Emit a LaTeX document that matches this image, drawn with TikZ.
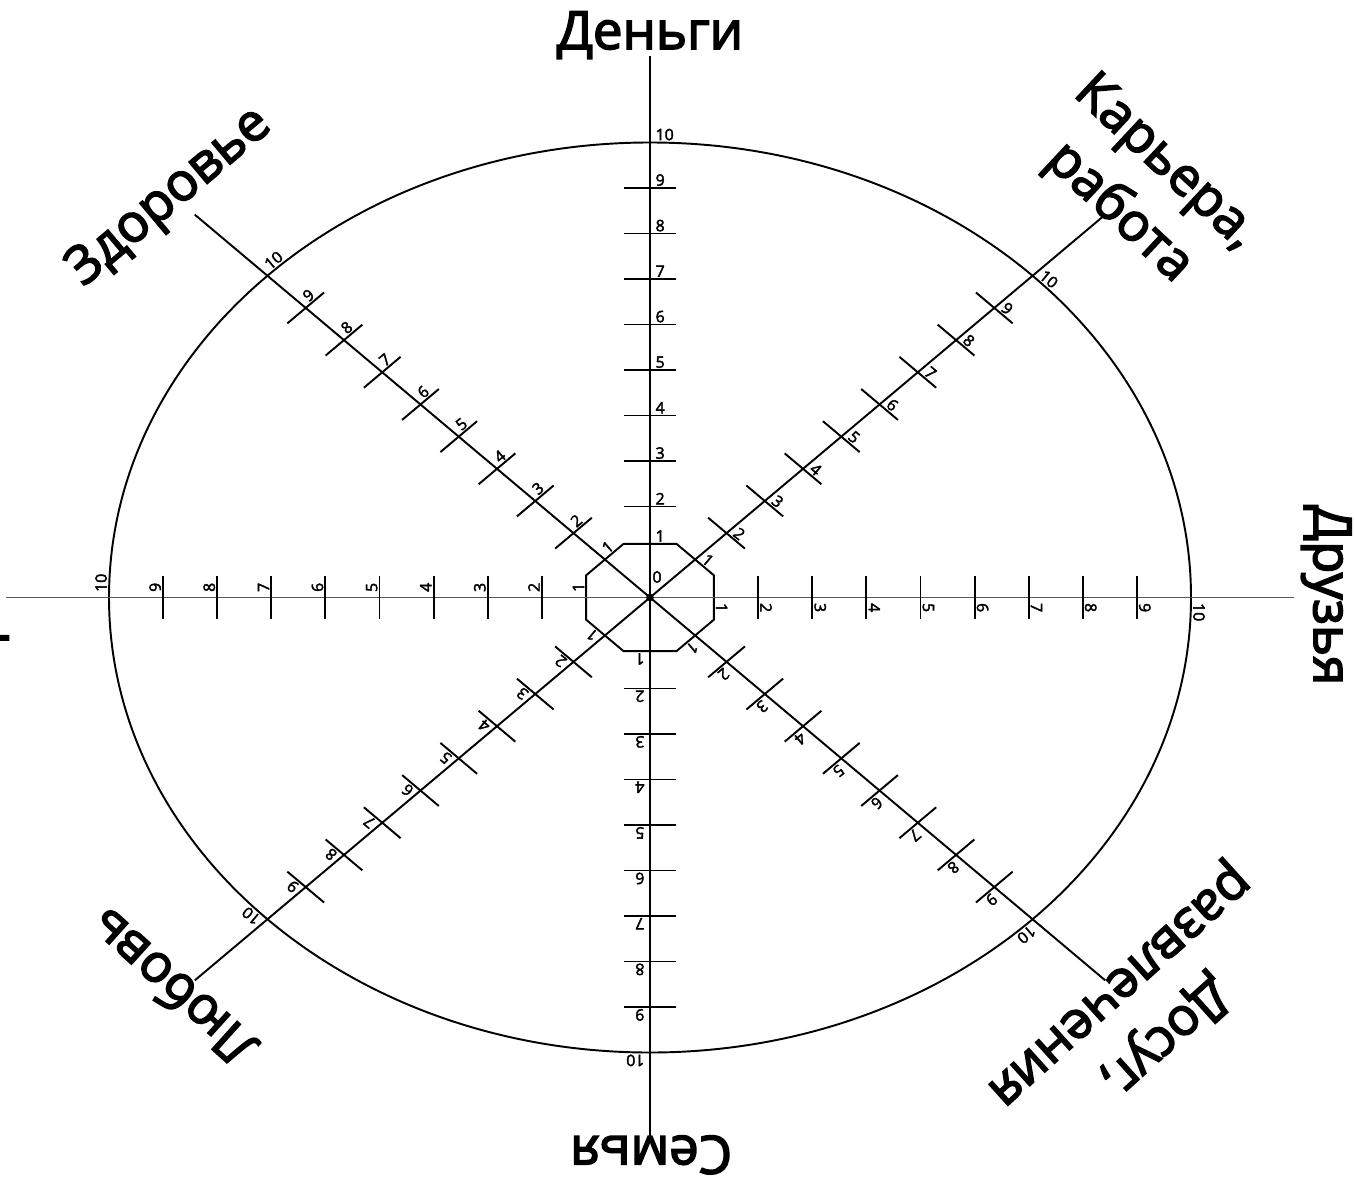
\documentclass[tikz,border=0pt]{standalone}
\usepackage{fontspec}
\setmainfont{Open Sans}
\newfontfamily\labfont{Open Sans}[FakeBold=3]
\newfontfamily\numfont{Open Sans}[FakeBold=2.5]
\begin{document}
\begin{tikzpicture}[x=1.082cm,y=0.91cm,
  ln/.style={line width=1.1pt},
  tl/.style={font=\numfont\fontsize{9}{10}\selectfont, inner xsep=3pt, inner ysep=1pt, anchor=south west},
  big/.style={font=\labfont\fontsize{30}{39}\selectfont, inner sep=0pt},
  bigc/.style={big, align=center}]
\useasboundingbox (-12.015,-12.824) rectangle (13.031,13.132);
% rim
\draw[ln] (0,0) circle [radius=10];
% octagon
\draw[ln] (22.5:1.277) -- (67.5:1.277) -- (112.5:1.277) -- (157.5:1.277) -- (202.5:1.277) -- (247.5:1.277) -- (292.5:1.277) -- (337.5:1.277) -- cycle;
% axes, ticks, numbers
\foreach \a/\r/\c in {90/0/black, 45/-40/black, 0/-90/black!65, -45/-140/black, -90/180/black, -135/140/black, 180/90/black!65, 135/40/black} {
  \draw[ln, draw=\c] (0,0) -- (\a:11.9);
  \foreach \n in {2,...,9} \draw[ln] (\a:\n) ++(\a+90:0.48) -- ++(\a-90:0.96);
  \foreach \n in {2,...,10} \node[tl, rotate=\r] (t\a-\n) at (\a:\n) {\n};
  \node[tl, rotate=\r] (t\a-1) at (\a:1.18) {1};
}
\fill (0,0) circle [radius=2.2pt];
\node[tl, anchor=center] (zero) at (0.13,0.45) {0};
% labels
\node[big] (money) at (0,12.36) {Деньги};
\node[big, rotate=-90] (friends) at (12.5,0.05) {Друзья};
\node[big, rotate=180] (family) at (0.02,-12.25) {Семья};
\node[big, rotate=40] (health) at (-8.87,8.78) {Здоровье};
\node[bigc, rotate=-43] (career) at (9.08,8.98) {Карьера,\\работа};
\node[bigc, rotate=-138] (leisure) at (9.08,-9.07) {Досуг,\\развлечения};
\node[big, rotate=138] (love) at (-8.85,-8.6) {Любовь};
\node[big, rotate=90, anchor=base] (self) at (-12.09,0.12) {Саморазвитие};
\end{tikzpicture}
\end{document}
